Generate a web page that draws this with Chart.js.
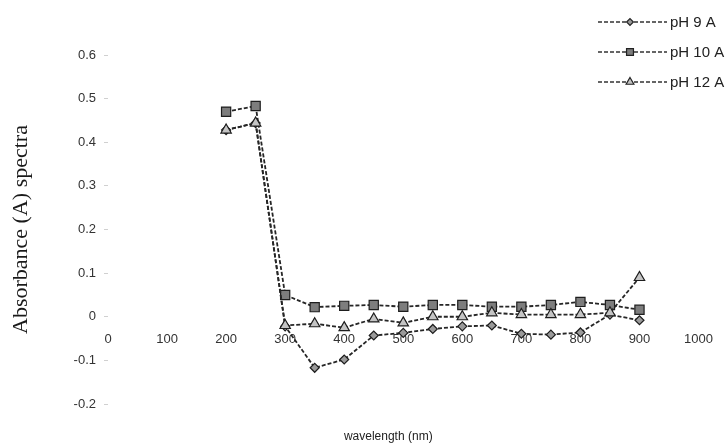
<!DOCTYPE html>
<html>
<head>
<meta charset="utf-8">
<script src="https://cdn.jsdelivr.net/npm/chart.js@4"></script>
<style>
  html, body { margin: 0; padding: 0; background: #fff; }
  #wrap { width: 728px; height: 447px; }
</style>
</head>
<body>
<div id="wrap"><canvas id="spectra"></canvas></div>
<script>
const wavelengths = [200, 250, 300, 350, 400, 450, 500, 550, 600, 650, 700, 750, 800, 850, 900];
const ph9 = [0.428, 0.444, -0.022, -0.117, -0.098, -0.043, -0.037, -0.028, -0.022, -0.02, -0.039, -0.041, -0.036, 0.005, -0.008];
const ph10 = [0.47, 0.483, 0.05, 0.022, 0.025, 0.027, 0.023, 0.027, 0.027, 0.023, 0.023, 0.027, 0.034, 0.027, 0.016];
const ph12 = [0.428, 0.444, -0.02, -0.016, -0.025, -0.005, -0.014, 0, 0, 0.009, 0.005, 0.005, 0.005, 0.009, 0.09];
const seriesNames = ["pH 9 A", "pH 10 A", "pH 12 A"];
const yTicks = [-0.2, -0.1, 0, 0.1, 0.2, 0.3, 0.4, 0.5, 0.6];
const xTitle = "wavelength (nm)";

const toPoints = (values) => values.map((v, i) => ({ x: wavelengths[i], y: v }));

const styles = [
  { pointStyle: "rectRot", radius: 4.5, fill: "#9a9a9a", order: 3 },
  { pointStyle: "rect", radius: 6.5, fill: "#7d7d7d", order: 2 },
  { pointStyle: "triangle", radius: 6, fill: "#c4c4c4", order: 1 },
];

const datasets = [ph9, ph10, ph12].map((values, i) => ({
  label: seriesNames[i],
  data: toPoints(values),
  order: styles[i].order,
  borderColor: "#262626",
  borderWidth: 1.8,
  borderDash: [4, 2],
  pointStyle: styles[i].pointStyle,
  pointRadius: styles[i].radius,
  pointBackgroundColor: styles[i].fill,
  pointBorderColor: "#1e1e1e",
  pointBorderWidth: 1.2,
  tension: 0,
}));

// legend top-right and x-axis title under the plot
const extras = {
  id: "extras",
  afterDraw(chart) {
    const ctx = chart.ctx;
    const rows = [22, 52, 82];
    ctx.save();
    datasets.forEach((ds, i) => {
      const y = rows[i];
      ctx.strokeStyle = "#333";
      ctx.lineWidth = 1.6;
      ctx.setLineDash([4, 2]);
      ctx.beginPath();
      ctx.moveTo(598, y);
      ctx.lineTo(667, y);
      ctx.stroke();
      ctx.setLineDash([]);
      ctx.fillStyle = ds.pointBackgroundColor;
      ctx.strokeStyle = "#222";
      ctx.lineWidth = 1.2;
      Chart.helpers.drawPoint(ctx, {
        pointStyle: ds.pointStyle,
        radius: ds.pointRadius * 0.75,
        rotation: 0,
        borderWidth: 1.2,
      }, 630, y);
      ctx.fillStyle = "#222";
      ctx.font = "15px 'Liberation Sans', Arial, sans-serif";
      ctx.textAlign = "left";
      ctx.textBaseline = "middle";
      ctx.fillText(ds.label, 670, y + 1);
    });

    const area = chart.chartArea;
    ctx.fillStyle = "#222";
    ctx.font = "12px 'Liberation Sans', Arial, sans-serif";
    ctx.textAlign = "center";
    ctx.textBaseline = "middle";
    ctx.fillText(xTitle, (area.left + area.right) / 2 - 15, 437);
    ctx.restore();
  },
};

new Chart(document.getElementById("spectra"), {
  type: "line",
  data: { datasets },
  options: {
    responsive: true,
    maintainAspectRatio: false,
    animation: false,
    layout: { padding: { top: 55, right: 24, left: 0, bottom: 43 } },
    plugins: {
      legend: { display: false },
      tooltip: { enabled: false },
    },
    scales: {
      x: {
        type: "linear",
        position: { y: 0 },
        min: 0,
        max: 1000,
        border: { display: false },
        grid: { display: false, drawTicks: false },
        ticks: {
          stepSize: 100,
          padding: 15,
          color: "#333",
          font: { family: "'Liberation Sans', Arial, sans-serif", size: 13 },
          maxRotation: 0,
          callback: (v) => String(v),
        },
      },
      y: {
        min: -0.2,
        max: 0.6,
        afterBuildTicks: (scale) => {
          scale.ticks = yTicks.map((v) => ({ value: v }));
        },
        afterFit: (scale) => {
          scale.width = 108;
        },
        border: { display: false },
        grid: { drawOnChartArea: false, drawTicks: true, tickLength: 4, color: "#d0d0d0" },
        ticks: {
          padding: 8,
          color: "#333",
          font: { family: "'Liberation Sans', Arial, sans-serif", size: 13 },
          callback: (v) => (v < 0 ? "-" + Math.abs(v).toFixed(1) : v === 0 ? "0" : v.toFixed(1)),
        },
        title: {
          display: true,
          text: "Absorbance (A) spectra",
          color: "#1a1a1a",
          font: { family: "'Liberation Serif', 'Times New Roman', serif", size: 22 },
          padding: { top: 8, bottom: 0 },
        },
      },
    },
  },
  plugins: [extras],
});
</script>
</body>
</html>
